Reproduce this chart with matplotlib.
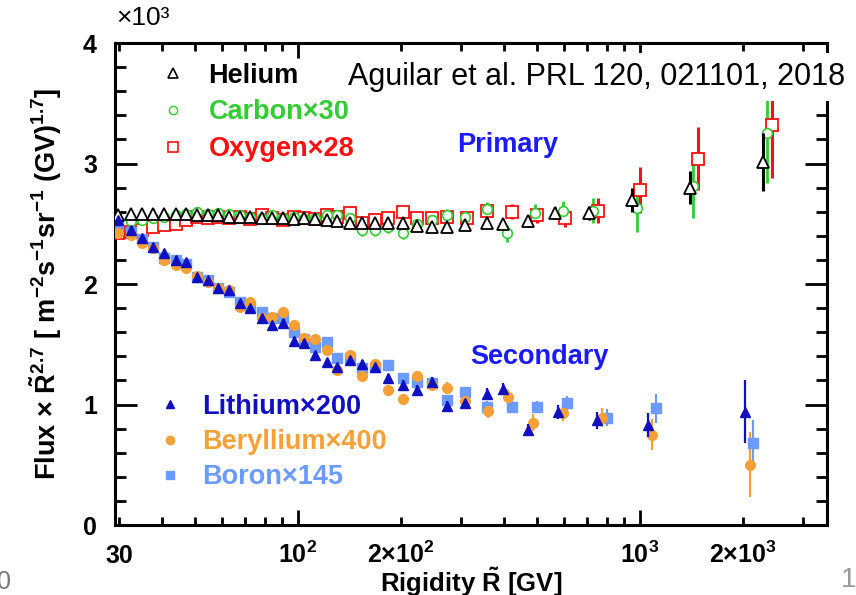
import matplotlib
matplotlib.use('Agg')
import matplotlib.pyplot as plt
from matplotlib.lines import Line2D

plt.rcParams['font.family'] = ['Liberation Sans', 'DejaVu Sans']
plt.rcParams['font.weight'] = 'bold'
plt.rcParams['axes.labelweight'] = 'bold'
plt.rcParams['mathtext.fontset'] = 'custom'
plt.rcParams['mathtext.rm'] = 'Liberation Sans:bold'
plt.rcParams['mathtext.it'] = 'Liberation Sans:bold'
plt.rcParams['mathtext.bf'] = 'Liberation Sans:bold'

# rigidity bins (GV)
he_r = [29.8, 32.5, 35.0, 37.7, 40.6, 44.0, 47.1, 50.7, 54.6, 58.3,
        62.9, 67.7, 72.4, 78.5, 83.9, 90.4, 97.3, 104, 112, 122,
        130, 142, 154, 168, 183, 203, 223, 247, 273, 308,
        357, 397, 471, 564, 709, 948, 1400, 2290]
c_r = he_r[:31] + [408, 493, 595, 729, 980, 1429, 2350]
o_r = he_r[:29] + [312, 357, 422, 500, 604, 754, 1000, 1478, 2432]
li_r = he_r[:33] + [575, 750, 1055, 2030]
be_r = he_r[:30] + [360, 411, 486, 595, 774, 1084, 2098]
b_r = he_r[:30] + [357, 422, 500, 612, 801, 1114, 2140]

# flux x R^2.7 (x10^3), scaled
he_val = [2.57, 2.58, 2.58, 2.58, 2.58, 2.58, 2.58, 2.57, 2.57, 2.57,
          2.56, 2.56, 2.56, 2.55, 2.55, 2.55, 2.54, 2.55, 2.54, 2.53,
          2.52, 2.51, 2.51, 2.51, 2.51, 2.51, 2.48, 2.47, 2.47, 2.49,
          2.51, 2.50, 2.52, 2.59, 2.59, 2.70, 2.80, 3.01]
he_err = [0.02, 0.02, 0.02, 0.02, 0.02, 0.02, 0.02, 0.02, 0.02, 0.02,
          0.02, 0.02, 0.02, 0.02, 0.02, 0.02, 0.02, 0.02, 0.02, 0.02,
          0.02, 0.02, 0.02, 0.02, 0.02, 0.03, 0.03, 0.03, 0.03, 0.03,
          0.04, 0.04, 0.05, 0.05, 0.06, 0.10, 0.14, 0.24]
c_val = [2.50, 2.52, 2.53, 2.55, 2.56, 2.57, 2.58, 2.60, 2.58, 2.59,
         2.58, 2.57, 2.56, 2.55, 2.57, 2.55, 2.56, 2.54, 2.55, 2.57,
         2.57, 2.55, 2.45, 2.45, 2.47, 2.42, 2.50, 2.53, 2.57, 2.56,
         2.62, 2.42, 2.59, 2.61, 2.61, 2.63, 2.81, 3.25]
c_err = [0.03, 0.03, 0.03, 0.03, 0.03, 0.03, 0.03, 0.03, 0.03, 0.03,
         0.03, 0.03, 0.04, 0.04, 0.04, 0.04, 0.04, 0.04, 0.04, 0.04,
         0.04, 0.04, 0.05, 0.05, 0.05, 0.05, 0.05, 0.05, 0.05, 0.05,
         0.06, 0.07, 0.07, 0.08, 0.10, 0.20, 0.26, 0.41]
o_val = [2.42, 2.43, 2.45, 2.47, 2.49, 2.50, 2.53, 2.56, 2.55, 2.56,
         2.55, 2.56, 2.54, 2.57, 2.55, 2.53, 2.56, 2.55, 2.54, 2.57,
         2.56, 2.59, 2.51, 2.53, 2.55, 2.60, 2.55, 2.55, 2.56, 2.55,
         2.61, 2.60, 2.57, 2.55, 2.61, 2.78, 3.04, 3.32]
o_err = [0.03, 0.03, 0.03, 0.03, 0.03, 0.03, 0.03, 0.03, 0.03, 0.03,
         0.03, 0.03, 0.04, 0.04, 0.04, 0.04, 0.04, 0.04, 0.04, 0.04,
         0.04, 0.04, 0.05, 0.05, 0.05, 0.05, 0.05, 0.05, 0.05, 0.05,
         0.06, 0.06, 0.06, 0.08, 0.10, 0.19, 0.26, 0.44]

li_val = [2.53, 2.45, 2.38, 2.31, 2.26, 2.20, 2.18, 2.06, 2.03, 1.97,
          1.95, 1.84, 1.80, 1.72, 1.66, 1.68, 1.53, 1.51, 1.41, 1.35,
          1.31, 1.37, 1.34, 1.31, 1.22, 1.16, 1.12, 1.19, 0.99, 1.01,
          1.09, 1.13, 0.79, 0.94, 0.87, 0.83, 0.94]
li_err = [0.03, 0.03, 0.03, 0.03, 0.03, 0.03, 0.03, 0.03, 0.03, 0.03,
          0.03, 0.03, 0.03, 0.03, 0.03, 0.03, 0.03, 0.03, 0.03, 0.03,
          0.03, 0.03, 0.03, 0.03, 0.03, 0.04, 0.04, 0.04, 0.04, 0.04,
          0.05, 0.05, 0.05, 0.06, 0.07, 0.10, 0.26]
be_val = [2.42, 2.41, 2.34, 2.30, 2.20, 2.16, 2.13, 2.07, 2.02, 1.97,
          1.95, 1.81, 1.85, 1.72, 1.73, 1.77, 1.66, 1.55, 1.54, 1.45,
          1.29, 1.41, 1.24, 1.34, 1.12, 1.05, 1.24, 1.16, 1.14, 1.03,
          0.95, 1.06, 0.85, 0.93, 0.89, 0.75, 0.50]
be_err = [0.03, 0.03, 0.03, 0.03, 0.03, 0.03, 0.03, 0.03, 0.03, 0.03,
          0.03, 0.03, 0.03, 0.03, 0.03, 0.03, 0.03, 0.03, 0.03, 0.03,
          0.04, 0.04, 0.04, 0.04, 0.04, 0.04, 0.04, 0.05, 0.05, 0.05,
          0.06, 0.06, 0.07, 0.07, 0.08, 0.13, 0.27]
b_val = [2.49, 2.43, 2.37, 2.31, 2.22, 2.20, 2.17, 2.06, 2.03, 1.97,
         1.93, 1.85, 1.81, 1.77, 1.72, 1.72, 1.60, 1.54, 1.48, 1.52,
         1.39, 1.39, 1.30, 1.31, 1.33, 1.22, 1.19, 1.18, 1.04, 1.10,
         0.98, 0.98, 0.98, 1.01, 0.89, 0.97, 0.68]
b_err = [0.03, 0.03, 0.03, 0.03, 0.03, 0.03, 0.03, 0.03, 0.03, 0.03,
         0.03, 0.03, 0.03, 0.03, 0.03, 0.03, 0.03, 0.03, 0.03, 0.03,
         0.03, 0.03, 0.03, 0.03, 0.03, 0.04, 0.04, 0.04, 0.04, 0.04,
         0.05, 0.05, 0.05, 0.06, 0.07, 0.12, 0.19]

col_c = '#33cc33'
col_o = '#ff1010'
col_li = '#1010c0'
col_be = '#f7a035'
col_b = '#6b9bff'
col_txt = '#1a1aff'

fig = plt.figure(figsize=(8.56, 5.95), dpi=100)
ax = fig.add_axes([0.1343, 0.1176, 0.8317, 0.8101])

# primaries
ax.errorbar(o_r, o_val, yerr=o_err, fmt='s', ms=8, mfc='white', mec=col_o, mew=1.3,
            ecolor=col_o, elinewidth=2.2, capsize=0, zorder=3)
ax.errorbar(c_r, c_val, yerr=c_err, fmt='o', ms=7, mfc='white', mec=col_c, mew=1.2,
            ecolor=col_c, elinewidth=2.0, capsize=0, zorder=3)
ax.errorbar(he_r, he_val, yerr=he_err, fmt='^', ms=8, mfc='white', mec='black', mew=1.3,
            ecolor='black', elinewidth=2.2, capsize=0, zorder=4)
# secondaries
ax.errorbar(b_r, b_val, yerr=b_err, fmt='s', ms=6.5, color=col_b,
            elinewidth=1.6, capsize=0, zorder=3)
ax.errorbar(be_r, be_val, yerr=be_err, fmt='o', ms=7, color=col_be,
            elinewidth=1.6, capsize=0, zorder=3)
ax.errorbar(li_r, li_val, yerr=li_err, fmt='^', ms=7, color=col_li,
            elinewidth=1.6, capsize=0, zorder=4)

ax.set_xscale('log')
ax.set_xlim(29.2, 3520)
ax.set_ylim(0, 4)

ax.set_xticks([100, 1000], labels=[r'$10^{2}$', r'$10^{3}$'])
minor = [30, 40, 50, 60, 70, 80, 90, 200, 300, 400, 500, 600, 700, 800, 900, 2000, 3000]
minor_lab = ['30', '', '', '', '', '', '', r'$2{\times}10^{2}$', '', '', '', '', '', '', '',
             r'$2{\times}10^{3}$', '']
ax.set_xticks(minor, labels=minor_lab, minor=True)
ax.set_yticks([0, 1, 2, 3, 4])
ax.set_yticks([0.2 * k for k in range(1, 20) if k % 5 != 0], minor=True)

ax.tick_params(which='both', direction='in', top=True, right=True, width=2.0,
               labelsize=18)
ax.tick_params(axis='x', which='major', length=11, pad=27)
ax.tick_params(axis='x', which='minor', length=6, pad=27)
ax.tick_params(axis='y', which='major', length=16, pad=13)
ax.tick_params(axis='y', which='minor', length=8)
for lbl in ax.xaxis.get_majorticklabels() + ax.xaxis.get_minorticklabels():
    lbl.set_verticalalignment('baseline')
for s in ax.spines.values():
    s.set_linewidth(2.2)

ax.set_ylabel(r'Flux $\times$ $\tilde{R}^{2.7}$ [ m$^{-2}$s$^{-1}$sr$^{-1}$ (GV)$^{1.7}$]',
              fontsize=19.5)
ax.yaxis.set_label_coords(-0.072, 0.5)
ax.set_xlabel(r'Rigidity $\tilde{R}$ [GV]', fontsize=18.5)
ax.xaxis.set_label_coords(0.5, -0.084)

# legends
h1 = [Line2D([], [], ls='none', marker='^', ms=7, mfc='white', mec='black', mew=1.2),
      Line2D([], [], ls='none', marker='o', ms=6, mfc='white', mec=col_c, mew=1.0),
      Line2D([], [], ls='none', marker='s', ms=7, mfc='white', mec=col_o, mew=1.2)]
leg1 = ax.legend(h1, ['Helium', 'Carbon×30', 'Oxygen×28'], loc='upper left',
                 bbox_to_anchor=(0.063, 0.9595), frameon=False, borderpad=0,
                 borderaxespad=0, handlelength=1.0, handletextpad=0.8,
                 labelspacing=0.4, labelcolor=['black', col_c, col_o],
                 prop={'size': 19.5, 'weight': 'bold'})
ax.add_artist(leg1)
h2 = [Line2D([], [], ls='none', marker='^', ms=6, color=col_li),
      Line2D([], [], ls='none', marker='o', ms=6, color=col_be),
      Line2D([], [], ls='none', marker='s', ms=5.5, color=col_b)]
ax.legend(h2, ['Lithium×200', 'Beryllium×400', 'Boron×145'], loc='upper left',
          bbox_to_anchor=(0.0576, 0.2728), frameon=False, borderpad=0,
          borderaxespad=0, handlelength=1.0, handletextpad=0.72,
          labelspacing=0.35, labelcolor=[col_li, col_be, col_b],
          prop={'size': 19.5, 'weight': 'bold'})

ax.text(0.552, 0.789, 'Primary', color=col_txt, fontsize=19.5, ha='center', va='center',
        transform=ax.transAxes)
ax.text(0.597, 0.349, 'Secondary', color=col_txt, fontsize=19.5, ha='center', va='center',
        transform=ax.transAxes)

fig.text(116 / 856, 1 - 18 / 595, '×10³', fontsize=19, fontweight='normal', va='center')
fig.text(845 / 856, 1 - 77 / 595, 'Aguilar et al. PRL 120, 021101, 2018', fontsize=22,
         fontweight='normal', ha='right', va='center', zorder=10,
         bbox=dict(boxstyle='square,pad=0.3', fc='white', ec='none'))
fig.text(-0.004, 1 - 582 / 595, '0', fontsize=18, fontweight='normal', color='#777777',
         va='center')
fig.text(0.982, 1 - 580 / 595, '1', fontsize=20, fontweight='normal', color='#999999',
         va='center')

fig.savefig('out.png', dpi=100)
